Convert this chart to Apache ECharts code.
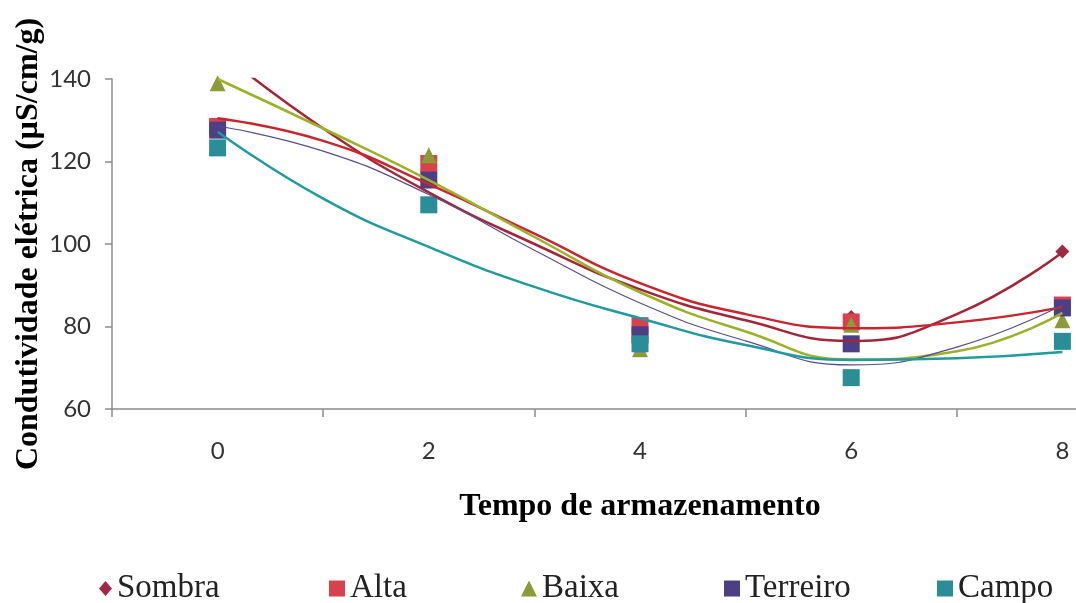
<!DOCTYPE html>
<html>
<head>
<meta charset="utf-8">
<script src="https://cdn.jsdelivr.net/npm/echarts@6/dist/echarts.min.js"></script>
<style>
  html, body { margin: 0; padding: 0; background: #ffffff; }
  #chart { width: 1076px; height: 603px; }
</style>
</head>
<body>
<div id="chart"></div>
<script>
// Storage time (categories on the axis) and measured conductivity per treatment
const categories = ['0', '2', '4', '6', '8'];
const times = [0, 2, 4, 6, 8];

const sombra   = [129, 116, 79, 82.3, 98.2];
const alta     = [128.5, 119.5, 80.2, 81.1, 85.2];
const baixa    = [139, 121.5, 74.5, 80.4, 81.5];
const terreiro = [127.6, 115.5, 78, 75.8, 84.5];
const campo    = [123.3, 109.5, 75.8, 67.6, 76.4];

// Polynomial trend curves, sampled at every unit of storage time
const trendX = [0, 1, 2, 3, 4, 5, 6, 7, 8];
const sombraTrend   = [147, 128, 112.5, 100, 89, 81.5, 76.5, 83, 98];
const altaTrend     = [130.5, 125, 114.5, 102.5, 90.5, 83, 79.6, 81, 84.7];
const baixaTrend    = [140, 128, 115.5, 101.7, 88.3, 78.8, 72, 74, 83.3];
const terreiroTrend = [128.6, 122.5, 112, 98.5, 85.7, 76.5, 70.7, 75, 85.2];
const campoTrend    = [127.2, 111, 99.3, 89.6, 82, 75.5, 71.9, 72.3, 73.8];

const yTicks = { min: 60, max: 140, interval: 20 };

const treatments = [
  { name: 'Sombra',   values: sombra,   trend: sombraTrend,   symbol: 'diamond', size: 14, color: '#9E2A46', line: '#A32638', width: 2.5 },
  { name: 'Alta',     values: alta,     trend: altaTrend,     symbol: 'rect',    size: 17, color: '#D8424F', line: '#C9252E', width: 2.5 },
  { name: 'Baixa',    values: baixa,    trend: baixaTrend,    symbol: 'triangle',size: 16, color: '#8C9A3A', line: '#9DB02A', width: 2.5 },
  { name: 'Terreiro', values: terreiro, trend: terreiroTrend, symbol: 'rect',    size: 17, color: '#4D3F85', line: '#5B4C8E', width: 1.2 },
  { name: 'Campo',    values: campo,    trend: campoTrend,    symbol: 'rect',    size: 17, color: '#2A8D98', line: '#1F9B9E', width: 2.5 }
];

const pair = (xs, ys) => xs.map((x, i) => [x, ys[i]]);

const series = [];
treatments.forEach((t) => {
  series.push({
    name: t.name,
    type: 'scatter',
    xAxisIndex: 1,
    symbol: t.symbol,
    symbolSize: t.size,
    itemStyle: { color: t.color, opacity: 1 },
    data: pair(times, t.values),
    z: 2
  });
});
treatments.forEach((t) => {
  series.push({
    name: t.name + ' tendência',
    type: 'line',
    xAxisIndex: 1,
    smooth: 0.5,
    showSymbol: false,
    clip: true,
    lineStyle: { color: t.line, width: t.width },
    data: pair(trendX, t.trend),
    z: 3
  });
});

// One legend block per treatment, spread across the bottom
const legendLeft = [99, 329, 521, 724, 937];
const legends = treatments.map((t, i) => ({
  data: [{ name: t.name, icon: t.symbol }],
  left: legendLeft[i],
  top: 572,
  padding: 0,
  itemGap: 0,
  itemWidth: t.symbol === 'diamond' ? 13 : 16,
  itemHeight: t.symbol === 'diamond' ? 15 : 16,
  textStyle: { fontFamily: 'Liberation Serif', fontSize: 33, color: '#222' }
}));

const chart = echarts.init(document.getElementById('chart'), null, { renderer: 'canvas' });
chart.setOption({
  backgroundColor: '#ffffff',
  animation: false,
  legend: legends,
  grid: { left: 112, top: 79, width: 1056, height: 330, containLabel: false, outerBoundsMode: 'none' },
  xAxis: [
    {
      type: 'category',
      data: categories,
      boundaryGap: true,
      name: 'Tempo de armazenamento',
      nameLocation: 'middle',
      nameGap: 82,
      nameTextStyle: { fontFamily: 'Liberation Serif', fontWeight: 'bold', fontSize: 32, color: '#000' },
      axisLine: { lineStyle: { color: '#8c8c8c', width: 1.5 } },
      axisTick: { show: true, alignWithLabel: false, length: 8, lineStyle: { color: '#8c8c8c', width: 1.5 } },
      axisLabel: { fontFamily: 'Lato', fontSize: 24, color: '#333', margin: 30 },
      splitLine: { show: false }
    },
    {
      type: 'value',
      min: -1,
      max: 9,
      show: false,
      splitLine: { show: false }
    }
  ],
  yAxis: {
    type: 'value',
    min: yTicks.min,
    max: yTicks.max,
    interval: yTicks.interval,
    name: 'Condutividade elétrica (µS/cm/g)',
    nameLocation: 'middle',
    nameRotate: 90,
    nameGap: 67,
    nameMoveOverlap: false,
    nameTextStyle: { fontFamily: 'Liberation Serif', fontWeight: 'bold', fontSize: 32, color: '#000' },
    axisLine: { show: true, onZero: false, lineStyle: { color: '#8c8c8c', width: 1.5 } },
    axisTick: { show: true, length: 7, lineStyle: { color: '#8c8c8c', width: 1.5 } },
    axisLabel: { fontFamily: 'Lato', fontSize: 24, color: '#333', margin: 21 },
    splitLine: { show: false }
  },
  series: series
});
</script>
</body>
</html>
